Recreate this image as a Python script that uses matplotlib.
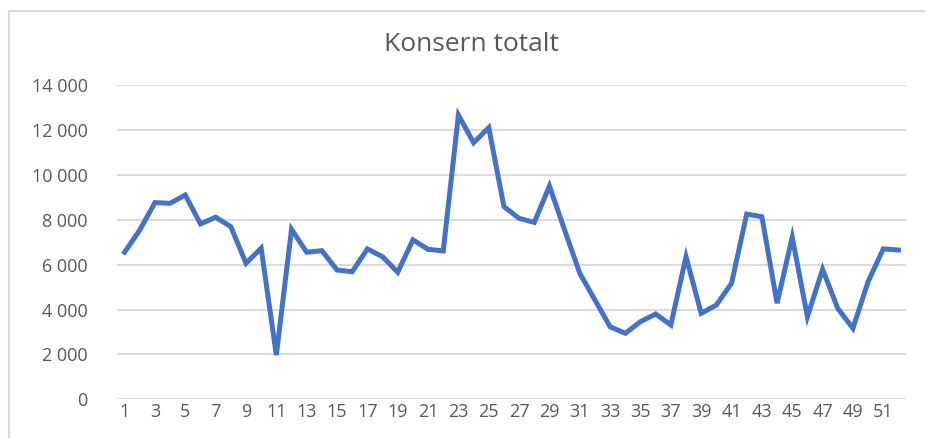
import matplotlib
matplotlib.use("Agg")
import matplotlib.pyplot as plt
from matplotlib.lines import Line2D

# weekly totals
weeks = list(range(1, 53))
totals = [6550, 7540, 8760, 8730, 9100, 7810, 8110, 7690, 6060, 6730,
          1970, 7570, 6550, 6620, 5760, 5680, 6700, 6350, 5660, 7100,
          6680, 6610, 12660, 11430, 12100, 8580, 8060, 7880, 9500, 7540,
          5610, 4420, 3230, 2940, 3460, 3800, 3310, 6350, 3830, 4200,
          5170, 8250, 8130, 4280, 7220, 3680, 5790, 4050, 3160, 5240,
          6700, 6650]
yticks = [0, 2000, 4000, 6000, 8000, 10000, 12000, 14000]
title = "Konsern totalt"

plt.rcParams['font.family'] = ['Open Sans', 'DejaVu Sans']
grey = "#595959"

fig = plt.figure(figsize=(9.25, 4.38), dpi=100)
ax = fig.add_axes([0.1265, 0.0883, 0.853, 0.7177])

ax.plot(weeks, totals, color="#4472C4", linewidth=3.6, solid_joinstyle="miter")

ax.set_xlim(0.5, 52.5)
ax.set_ylim(0, 14000)
ax.set_yticks(yticks)
ax.set_yticklabels([f"{v:,}".replace(",", " ") for v in yticks], color=grey, fontsize=13)
ax.set_xticks(weeks[::2])
ax.set_xticklabels([str(w) for w in weeks[::2]], color=grey, fontsize=13)
ax.tick_params(length=0, pad=21, axis="y")
ax.tick_params(length=0, pad=3, axis="x")

ax.grid(axis="y", color="#D9D9D9", linewidth=1.3)
ax.set_axisbelow(True)
for s in ax.spines.values():
    s.set_visible(False)

fig.text(0.510, 0.898, title, ha="center", va="center", fontsize=19, color=grey)

# chart frame (left and top edges are visible in the reference)
fig.add_artist(Line2D([0.0097, 0.0097], [0, 0.975], transform=fig.transFigure, color="#D9D9D9", linewidth=1.5))
fig.add_artist(Line2D([0.0097, 1.0], [0.975, 0.975], transform=fig.transFigure, color="#D9D9D9", linewidth=1.5))

fig.savefig("out.png", dpi=100)
